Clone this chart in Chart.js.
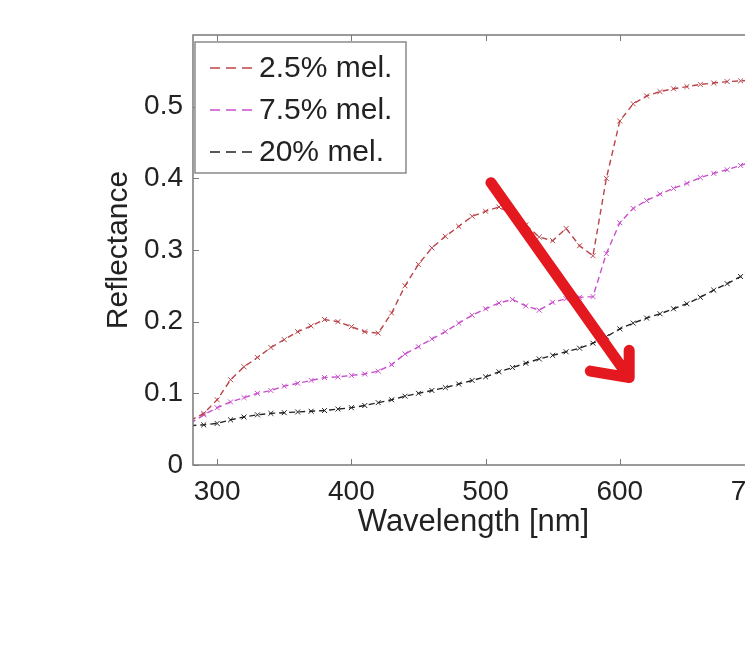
<!DOCTYPE html>
<html>
<head>
<meta charset="utf-8">
<script src="https://cdn.jsdelivr.net/npm/chart.js@4.4.1/dist/chart.umd.min.js"></script>
<style>
  html, body { margin: 0; padding: 0; background: #fff; overflow: hidden; }
  #wrap { position: relative; width: 800px; height: 646px; }
</style>
</head>
<body>
<div id="wrap"><canvas id="reflChart" width="800" height="646"></canvas></div>
<script>
// wavelengths in nm
const wavelengths = [280, 290, 300, 310, 320, 330, 340, 350, 360, 370, 380, 390, 400, 410, 420,
    430, 440, 450, 460, 470, 480, 490, 500, 510, 520, 530, 540, 550, 560, 570, 580,
    590, 600, 610, 620, 630, 640, 650, 660, 670, 680, 690, 700];

const mel25 = [0.062, 0.072, 0.091, 0.119, 0.137, 0.150, 0.164, 0.175, 0.186, 0.194, 0.203, 0.200, 0.193, 0.186, 0.184,
    0.212, 0.250, 0.280, 0.303, 0.319, 0.333, 0.347, 0.354, 0.360, 0.350, 0.335, 0.318, 0.313, 0.330, 0.306, 0.292,
    0.400, 0.480, 0.504, 0.515, 0.521, 0.525, 0.528, 0.531, 0.533, 0.535, 0.536, 0.537];

const mel75 = [0.058, 0.070, 0.080, 0.088, 0.094, 0.100, 0.104, 0.110, 0.114, 0.118, 0.122, 0.123, 0.125, 0.127, 0.131,
    0.140, 0.155, 0.165, 0.176, 0.186, 0.198, 0.209, 0.218, 0.226, 0.231, 0.222, 0.216, 0.227, 0.232, 0.234, 0.235,
    0.295, 0.338, 0.358, 0.369, 0.378, 0.386, 0.393, 0.401, 0.407, 0.412, 0.418, 0.424];

const mel20 = [0.055, 0.056, 0.058, 0.063, 0.067, 0.070, 0.072, 0.073, 0.074, 0.075, 0.076, 0.078, 0.080, 0.083, 0.087,
    0.091, 0.096, 0.100, 0.104, 0.108, 0.113, 0.118, 0.123, 0.130, 0.136, 0.142, 0.148, 0.153, 0.158, 0.163, 0.170,
    0.179, 0.190, 0.198, 0.205, 0.211, 0.218, 0.225, 0.234, 0.244, 0.253, 0.263, 0.272];

const seriesLabels = ['2.5% mel.', '7.5% mel.', '20% mel.'];
const xTicks = [300, 400, 500, 600, 700];
const yTicks = [0, 0.1, 0.2, 0.3, 0.4, 0.5];

const colors = ['#b9444a', '#c84fcc', '#222222'];

Chart.defaults.font.family = '"Liberation Sans", Arial, sans-serif';
Chart.defaults.color = '#222';

function series(values, i) {
    return {
        label: seriesLabels[i],
        data: wavelengths.map((w, k) => ({ x: w, y: values[k] })),
        borderColor: colors[i],
        backgroundColor: colors[i],
        borderWidth: 1.4,
        borderDash: [6, 4],
        pointStyle: 'crossRot',
        pointRadius: 3.5,
        pointBorderWidth: 1,
        tension: 0,
        fill: false
    };
}

/* matlab style box, inner ticks, legend inside the axes and the red arrow */
const extras = {
    id: 'extras',
    afterDatasetsDraw(chart) {
        const ctx = chart.ctx;
        const a = chart.chartArea;
        const xs = chart.scales.x, ys = chart.scales.y;
        ctx.save();
        ctx.strokeStyle = '#7a7a7a';
        ctx.lineWidth = 1.5;
        ctx.strokeRect(a.left, a.top, a.right - a.left, a.bottom - a.top);
        ctx.lineWidth = 1;
        ctx.beginPath();
        xTicks.forEach(v => {
            const px = Math.round(xs.getPixelForValue(v)) + 0.5;
            ctx.moveTo(px, a.bottom); ctx.lineTo(px, a.bottom - 6);
            ctx.moveTo(px, a.top); ctx.lineTo(px, a.top + 6);
        });
        yTicks.forEach(v => {
            const py = Math.round(ys.getPixelForValue(v)) + 0.5;
            ctx.moveTo(a.left, py); ctx.lineTo(a.left + 6, py);
        });
        ctx.stroke();

        // legend box
        const bx = a.left + 2, by = a.top + 7, bw = 211, bh = 131;
        ctx.fillStyle = '#fff';
        ctx.fillRect(bx, by, bw, bh);
        ctx.strokeStyle = '#8a8a8a';
        ctx.lineWidth = 1.5;
        ctx.strokeRect(bx, by, bw, bh);
        ctx.font = '30px "Liberation Sans", Arial, sans-serif';
        ctx.textBaseline = 'middle';
        ctx.textAlign = 'left';
        chart.data.datasets.forEach((ds, i) => {
            const cy = by + 26 + i * 42;
            ctx.strokeStyle = ds.borderColor;
            ctx.lineWidth = 1.5;
            ctx.setLineDash([10, 6]);
            ctx.beginPath();
            ctx.moveTo(bx + 15, cy); ctx.lineTo(bx + 63, cy);
            ctx.stroke();
            ctx.setLineDash([]);
            ctx.fillStyle = '#222';
            ctx.fillText(ds.label, bx + 64, cy + 1);
        });
        ctx.restore();
    },
    afterDraw(chart) {
        const ctx = chart.ctx;
        const xs = chart.scales.x, ys = chart.scales.y;
        const p = (w, r) => [xs.getPixelForValue(w), ys.getPixelForValue(r)];
        const tail = p(504, 0.394), tip = p(607, 0.122);
        const h1 = p(607, 0.160), h2 = p(578, 0.131);
        ctx.save();
        ctx.strokeStyle = '#e3191f';
        ctx.lineWidth = 11;
        ctx.lineCap = 'round';
        ctx.lineJoin = 'round';
        ctx.beginPath();
        ctx.moveTo(tail[0], tail[1]); ctx.lineTo(tip[0], tip[1]);
        ctx.moveTo(h1[0], h1[1]); ctx.lineTo(tip[0], tip[1]); ctx.lineTo(h2[0], h2[1]);
        ctx.stroke();
        ctx.restore();
    }
};

new Chart(document.getElementById('reflChart'), {
    type: 'line',
    data: {
        datasets: [series(mel25, 0), series(mel75, 1), series(mel20, 2)]
    },
    options: {
        responsive: false,
        animation: false,
        layout: { padding: { left: 97, top: 35, right: 46, bottom: 101 } },
        plugins: {
            legend: { display: false },
            tooltip: { enabled: false }
        },
        scales: {
            x: {
                type: 'linear',
                min: 282,
                max: 700,
                grid: { display: false },
                border: { display: false },
                afterBuildTicks: s => { s.ticks = xTicks.map(v => ({ value: v })); },
                afterFit: s => { s.height = 80; },
                ticks: { font: { size: 28 }, padding: 2, color: '#222' },
                title: { display: true, text: 'Wavelength [nm]', font: { size: 31 }, color: '#222' }
            },
            y: {
                min: 0,
                max: 0.6,
                grid: { display: false },
                border: { display: false },
                afterBuildTicks: s => { s.ticks = yTicks.map(v => ({ value: v })); },
                afterFit: s => { s.width = 96; },
                ticks: { font: { size: 28 }, padding: 2, color: '#222' },
                title: { display: true, text: 'Reflectance', font: { size: 30 }, color: '#222' }
            }
        }
    },
    plugins: [extras]
});
</script>
</body>
</html>
